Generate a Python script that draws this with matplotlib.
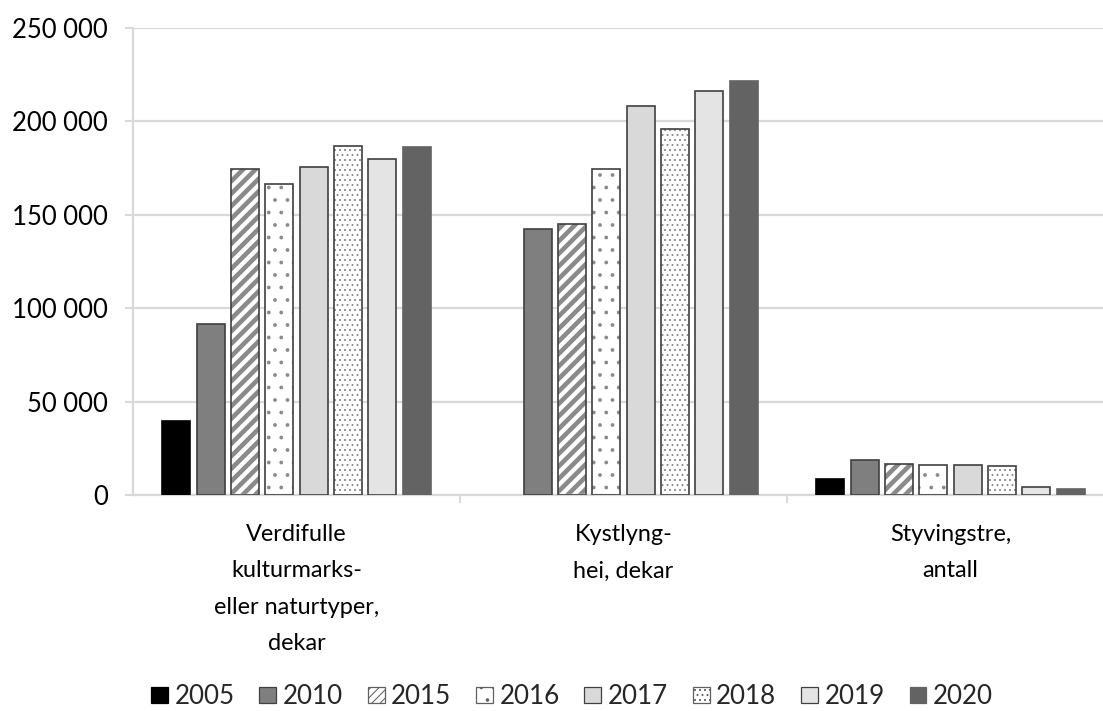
import numpy as np
import matplotlib
matplotlib.use("Agg")
import matplotlib.pyplot as plt
from matplotlib.patches import Patch

plt.rcParams['font.family'] = ['Lato', 'DejaVu Sans']
plt.rcParams['font.size'] = 11
plt.rcParams['text.color'] = '#262626'

# Data
categories = ['Verdifulle\nkulturmarks-\neller naturtyper,\ndekar',
              'Kystlyng-\nhei, dekar',
              'Styvingstre,\nantall']
years = ['2005', '2010', '2015', '2016', '2017', '2018', '2019', '2020']
v2005 = [39600, np.nan, 8600]
v2010 = [91500, 142200, 18700]
v2015 = [174500, 144900, 16800]
v2016 = [166500, 174400, 16000]
v2017 = [175600, 208200, 16000]
v2018 = [186800, 195800, 15400]
v2019 = [179900, 216100, 4100]
v2020 = [186300, 221500, 3000]
series = [v2005, v2010, v2015, v2016, v2017, v2018, v2019, v2020]
y_ticks = [0, 50000, 100000, 150000, 200000, 250000]

# styles: fill, hatch, hatch line width, edge colour
fills = ['#000000', '#7f7f7f', 'white', 'white', '#d9d9d9', 'white', '#e4e4e4', '#636363']
hatches = [None, None, '////', '..', None, '.....', None, None]
legend_hatches = [None, None, '//////', '..', None, '.....', None, None]
hatch_lw = [0, 0, 2.2, 0.6, 0, 0.5, 0, 0]
edges = ['#000000', '#404040', '#404040', '#404040', '#404040', '#404040', '#404040', '#636363']

fig = plt.figure(figsize=(1103 / 150, 711 / 150), dpi=150)
ax = fig.add_axes([133 / 1103, 1 - 495 / 711, 981 / 1103, 467 / 711])

x = np.arange(len(categories))
pitch = 0.1049
width = 0.0856
handles = []
for i, (vals, yr) in enumerate(zip(series, years)):
    pos = x + (i - 3.5) * pitch
    vals = np.array(vals, dtype=float)
    if hatches[i]:
        plt.rcParams['hatch.linewidth'] = hatch_lw[i]
        bars = ax.bar(pos, vals, width, color=fills[i], edgecolor='#8a8a8a',
                      hatch=hatches[i], linewidth=0, zorder=2)
        for b in bars:
            if hasattr(b, 'set_hatch_linewidth'):
                b.set_hatch_linewidth(hatch_lw[i])
        ax.bar(pos, vals, width, fill=False, edgecolor=edges[i], linewidth=0.8, zorder=3)
        h = Patch(facecolor=fills[i], edgecolor='#606060', hatch=legend_hatches[i], linewidth=0.6)
        if hasattr(h, 'set_hatch_linewidth'):
            h.set_hatch_linewidth(hatch_lw[i])
    else:
        ax.bar(pos, vals, width, color=fills[i], edgecolor=edges[i], linewidth=0.8, zorder=3)
        h = Patch(facecolor=fills[i], edgecolor=edges[i], linewidth=0.6)
    handles.append(h)

ax.set_xlim(-0.5, 2.5)
ax.set_ylim(0, 250000)
ax.set_yticks(y_ticks)
ax.set_yticklabels([f'{t:,}'.replace(',', ' ') for t in y_ticks])
ax.set_xticks(x)
ax.set_xticklabels(categories, linespacing=1.9)
ax.set_xticks([0.5, 1.5, 2.5], minor=True)
ax.tick_params(axis='x', which='major', length=0, pad=14, labelsize=11.3)
ax.tick_params(axis='x', which='minor', length=4, color='#d9d9d9', width=1)
ax.tick_params(axis='y', length=4, color='#d9d9d9', width=1, pad=8, labelsize=12.3)
ax.grid(axis='y', color='#d9d9d9', linewidth=1.1, zorder=0)
ax.set_axisbelow(True)
for s in ['top', 'right']:
    ax.spines[s].set_visible(False)
for s in ['left', 'bottom']:
    ax.spines[s].set_color('#d9d9d9')
    ax.spines[s].set_linewidth(1.1)

fig.legend(handles, years, loc='center', bbox_to_anchor=(572 / 1103, 1 - 697 / 711),
           ncol=8, frameon=False, handlelength=0.65, handleheight=0.58,
           handletextpad=0.25, columnspacing=0.95, fontsize=12.5,
           borderpad=0, borderaxespad=0)

fig.savefig('out.png', dpi=150)
